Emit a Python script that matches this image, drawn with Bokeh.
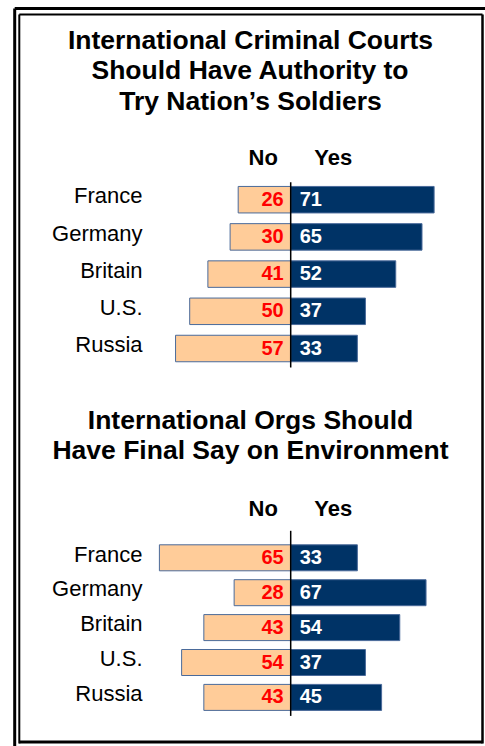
from bokeh.plotting import figure
from bokeh.models import Range1d
from bokeh.core.properties import value
from bokeh.embed import file_html
from bokeh.resources import INLINE

# ---- data ----
countries = ["France", "Germany", "Britain", "U.S.", "Russia"]
courts_no = [26, 30, 41, 50, 57]
courts_yes = [71, 65, 52, 37, 33]
env_no = [65, 28, 43, 54, 43]
env_yes = [33, 67, 54, 37, 45]
title_courts = ["International Criminal Courts", "Should Have Authority to", "Try Nation\u2019s Soldiers"]
title_env = ["International Orgs Should", "Have Final Say on Environment"]
col_labels = ["No", "Yes"]

# ---- layout ----
W, H = 485, 746
SCALE = 2.02          # px per percentage point
CENTER = 290.2        # px position of the zero line
FONT = value("Liberation Sans")
NAVY = "#003366"
PEACH = "#FFCC99"
EDGE = "#4A6A9A"
BL = 0.4              # baseline correction (fraction of font size)

p = figure(width=W, height=H, output_backend="svg", toolbar_location=None,
           x_range=Range1d(-CENTER / SCALE, (W - CENTER) / SCALE),
           y_range=Range1d(H, 0), x_axis_type=None, y_axis_type=None,
           min_border=0, outline_line_color=None)
p.grid.visible = False
p.extra_x_ranges = {"px": Range1d(0, W)}

# border (double frame)
p.segment(x0=[14.2, 14.2], y0=[H, 8], x1=[14.2, W], y1=[8, 8],
          x_range_name="px", line_color="black", line_width=3)
p.segment(x0=[18.8, 18.8, 482, 18.8], y0=[743, 14, 14, 741.5],
          x1=[18.8, 482, 482, 482], y1=[14, 14, 743, 741.5],
          x_range_name="px", line_color="black", line_width=[2, 1.8, 2.5, 3])


def title(lines, baseline0, step, size=26.5):
    ys = [baseline0 + i * step - BL * size for i in range(len(lines))]
    p.text(x=[250] * len(lines), y=ys, text=lines, x_range_name="px",
           text_font=FONT, text_font_style="bold", text_font_size=f"{size}px",
           text_align="center", text_baseline="alphabetic", text_color="black")


def panel(no, yes, header_y, row0, step, bar_h, line_top, line_bottom):
    ys = [row0 + i * step for i in range(len(countries))]
    # headers
    hs = 22
    p.text(x=[CENTER - 27.5, CENTER + 42.5], y=[header_y - BL * hs] * 2, text=col_labels,
           x_range_name="px", text_font=FONT, text_font_style="bold",
           text_font_size=f"{hs}px", text_align="center", text_baseline="alphabetic")
    # bars
    p.hbar(y=ys, left=[-v for v in no], right=0, height=bar_h,
           fill_color=PEACH, line_color=EDGE, line_width=1)
    p.hbar(y=ys, left=0, right=yes, height=bar_h,
           fill_color=NAVY, line_color=EDGE, line_width=1)
    # zero line
    p.segment(x0=[0], y0=[ys[0] + line_top], x1=[0], y1=[ys[-1] + line_bottom],
              line_color="black", line_width=1.5)
    # value labels
    vs = 20
    lab_y = [y + 7 - BL * vs for y in ys]
    p.text(x=[0] * len(no), y=lab_y, text=[str(v) for v in no], x_offset=-7,
           text_font=FONT, text_font_style="bold", text_font_size=f"{vs}px",
           text_color="#FF0000", text_align="right", text_baseline="alphabetic")
    p.text(x=[0] * len(yes), y=lab_y, text=[str(v) for v in yes], x_offset=9,
           text_font=FONT, text_font_style="bold", text_font_size=f"{vs}px",
           text_color="white", text_align="left", text_baseline="alphabetic")
    # category labels
    cs = 22
    p.text(x=[142] * len(countries), y=[y + 5 - BL * cs for y in ys], text=countries,
           x_range_name="px", text_font=FONT, text_font_size=f"{cs}px",
           text_color="black", text_align="right", text_baseline="alphabetic")


title(title_courts, 50, 30.3)
panel(courts_no, courts_yes, header_y=166, row0=199.2, step=37.2, bar_h=26.5,
      line_top=-17.5, line_bottom=19)
title(title_env, 430, 30)
panel(env_no, env_yes, header_y=517, row0=557.3, step=34.9, bar_h=26,
      line_top=-27, line_bottom=18.5)

open("out.html", "w").write(file_html(p, INLINE))
